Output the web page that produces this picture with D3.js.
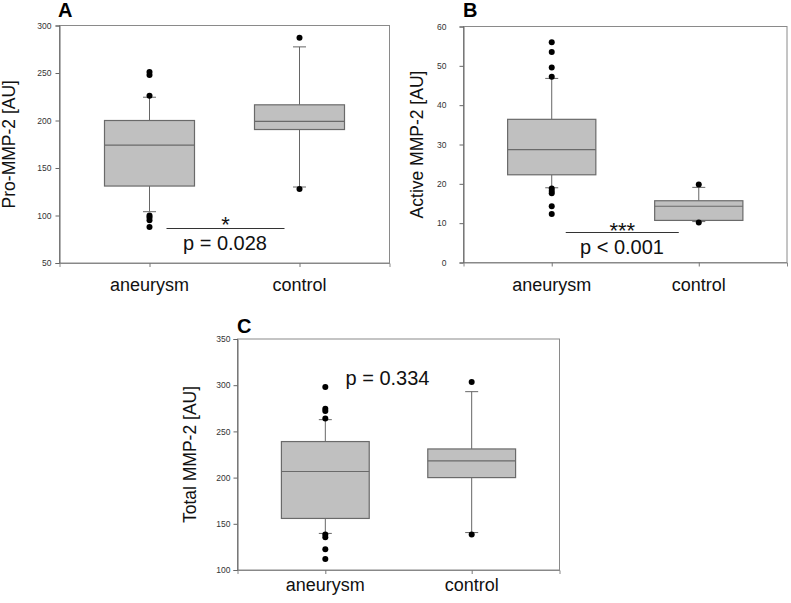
<!DOCTYPE html>
<html>
<head>
<meta charset="utf-8">
<script src="https://cdn.jsdelivr.net/npm/d3@7/dist/d3.min.js"></script>
<style>
  html, body { margin: 0; padding: 0; background: #fff; }
  svg { display: block; font-family: "Liberation Sans", Arial, Helvetica, sans-serif; }
</style>
</head>
<body>
<svg id="chart" width="791" height="603"></svg>
<script>
// ---------- DATA ----------
const categories = ["aneurysm", "control"];

// Panel A: Pro-MMP-2 [AU]
const proTicks = [50, 100, 150, 200, 250, 300];
const proStats = [
  { q1: 131, median: 174, q3: 200, low: 104, high: 224.5, outliers: [251, 248, 226, 100, 98, 95, 88] },
  { q1: 190.5, median: 199, q3: 216.5, low: 130, high: 277.5, outliers: [287, 128] }
];

// Panel B: Active MMP-2 [AU]
const activeTicks = [0, 10, 20, 30, 40, 50, 60];
const activeStats = [
  { q1: 22.3, median: 28.7, q3: 36.4, low: 19.0, high: 46.8, outliers: [56, 53.5, 49.6, 47.2, 18.8, 18.2, 17.6, 14.3, 12.3] },
  { q1: 10.7, median: 14.3, q3: 15.7, low: 10.4, high: 19.1, outliers: [19.8, 10.2] }
];

// Panel C: Total MMP-2 [AU]
const totalTicks = [100, 150, 200, 250, 300, 350];
const totalStats = [
  { q1: 155.8, median: 206.6, q3: 239, low: 139.6, high: 262.7, outliers: [298, 274.5, 272, 264, 138.5, 135.5, 122.5, 112] },
  { q1: 200, median: 218, q3: 231, low: 140.5, high: 293, outliers: [303.5, 138.5] }
];

const panelLetters = ["A", "B", "C"];
const yTitles = ["Pro-MMP-2 [AU]", "Active MMP-2 [AU]", "Total MMP-2 [AU]"];
const stars = ["*", "***", ""];
const pTexts = ["p = 0.028", "p < 0.001", "p = 0.334"];

// ---------- LAYOUT ----------
const panels = [
  { stats: proStats, ticks: proTicks, domain: [50, 300],
    left: 59.5, right: 389.5, top: 25.5, bottom: 263,
    titleX: 15, labelGap: 8, catY: 291,
    letterX: 58, letterY: 17,
    line: { x1: 17, x2: -15, y: 228.5 }, starY: 232, pY: 250, pX: 225 },
  { stats: activeStats, ticks: activeTicks, domain: [0, 60],
    left: 463.5, right: 787, top: 26.5, bottom: 262.5,
    titleX: 423, labelGap: 17, catY: 291,
    letterX: 463, letterY: 17,
    line: { x1: 14, x2: -20, y: 232.5 }, starY: 238, pY: 254, pX: 622 },
  { stats: totalStats, ticks: totalTicks, domain: [100, 350],
    left: 237.5, right: 559.5, top: 339, bottom: 570,
    titleX: 196, labelGap: 7, catY: 591,
    letterX: 237, letterY: 333,
    line: null, starY: 0, pY: 385, pX: 387.5 }
];

const svg = d3.select("#chart");
const FONT = '"Liberation Sans", Arial, Helvetica, sans-serif';

panels.forEach((p, i) => {
  const g = svg.append("g");
  const x = d3.scalePoint().domain(categories).range([p.left, p.right]).padding(0.6);
  const y = d3.scaleLinear().domain(p.domain).range([p.bottom, p.top]);
  const boxW = x.step() * 0.6;
  const capW = 13;

  // frame
  g.append("rect")
    .attr("x", p.left).attr("y", p.top)
    .attr("width", p.right - p.left).attr("height", p.bottom - p.top)
    .attr("fill", "none").attr("stroke", "#8a8a8a").attr("stroke-width", 1);

  // y axis
  const yAxis = d3.axisLeft(y).tickValues(p.ticks).tickSize(4).tickPadding(p.labelGap - 4);
  const ya = g.append("g").attr("transform", `translate(${p.left},0)`).call(yAxis);
  ya.select(".domain").attr("stroke", "#666");
  ya.selectAll(".tick line").attr("stroke", "#666");
  ya.selectAll(".tick text").attr("fill", "#333").style("font-size", "8.5px").style("font-family", FONT);

  // x axis
  const xAxis = d3.axisBottom(x).tickSize(4).tickFormat("");
  const xa = g.append("g").attr("transform", `translate(0,${p.bottom})`).call(xAxis);
  xa.select(".domain").attr("stroke", "#888");
  xa.selectAll(".tick line").attr("stroke", "#777");

  // category labels
  g.selectAll(".cat").data(categories).enter().append("text")
    .attr("x", d => x(d)).attr("y", p.catY)
    .attr("text-anchor", "middle")
    .style("font-size", "18px").attr("fill", "#111")
    .text(d => d);

  // boxes
  const grp = g.selectAll(".bx").data(p.stats).enter().append("g");
  grp.append("line")
    .attr("x1", (d, j) => x(categories[j])).attr("x2", (d, j) => x(categories[j]))
    .attr("y1", d => y(d.high)).attr("y2", d => y(d.q3))
    .attr("stroke", "#666").attr("stroke-width", 1);
  grp.append("line")
    .attr("x1", (d, j) => x(categories[j])).attr("x2", (d, j) => x(categories[j]))
    .attr("y1", d => y(d.q1)).attr("y2", d => y(d.low))
    .attr("stroke", "#666").attr("stroke-width", 1);
  grp.append("line")
    .attr("x1", (d, j) => x(categories[j]) - capW / 2).attr("x2", (d, j) => x(categories[j]) + capW / 2)
    .attr("y1", d => y(d.high)).attr("y2", d => y(d.high))
    .attr("stroke", "#666").attr("stroke-width", 1);
  grp.append("line")
    .attr("x1", (d, j) => x(categories[j]) - capW / 2).attr("x2", (d, j) => x(categories[j]) + capW / 2)
    .attr("y1", d => y(d.low)).attr("y2", d => y(d.low))
    .attr("stroke", "#666").attr("stroke-width", 1);
  grp.append("rect")
    .attr("x", (d, j) => x(categories[j]) - boxW / 2)
    .attr("width", boxW)
    .attr("y", d => y(d.q3))
    .attr("height", d => y(d.q1) - y(d.q3))
    .attr("fill", "#c0c0c0").attr("stroke", "#6a6a6a").attr("stroke-width", 1.2);
  grp.append("line")
    .attr("x1", (d, j) => x(categories[j]) - boxW / 2).attr("x2", (d, j) => x(categories[j]) + boxW / 2)
    .attr("y1", d => y(d.median)).attr("y2", d => y(d.median))
    .attr("stroke", "#6a6a6a").attr("stroke-width", 1.2);
  grp.each(function (d, j) {
    d3.select(this).selectAll("circle").data(d.outliers).enter().append("circle")
      .attr("cx", x(categories[j])).attr("cy", v => y(v)).attr("r", 3)
      .attr("fill", "#000");
  });

  // y title
  const cy = (p.top + p.bottom) / 2;
  g.append("text")
    .attr("transform", `translate(${p.titleX},${cy}) rotate(-90)`)
    .attr("text-anchor", "middle")
    .style("font-size", "17.5px").attr("fill", "#111")
    .text(yTitles[i]);

  // panel letter
  g.append("text")
    .attr("x", p.letterX).attr("y", p.letterY)
    .style("font-size", "20px").style("font-weight", "bold").attr("fill", "#000")
    .text(panelLetters[i]);

  // significance annotation
  if (p.line) {
    const x1 = x(categories[0]) + p.line.x1, x2 = x(categories[1]) + p.line.x2;
    g.append("line")
      .attr("x1", x1).attr("x2", x2).attr("y1", p.line.y).attr("y2", p.line.y)
      .attr("stroke", "#333").attr("stroke-width", 1.2);
    g.append("text")
      .attr("x", (x1 + x2) / 2).attr("y", p.starY)
      .attr("text-anchor", "middle")
      .style("font-size", "22px").attr("fill", "#111")
      .text(stars[i]);
  }
  g.append("text")
    .attr("x", p.pX).attr("y", p.pY)
    .attr("text-anchor", "middle")
    .style("font-size", "20px").attr("fill", "#111")
    .text(pTexts[i]);
});
</script>
</body>
</html>
